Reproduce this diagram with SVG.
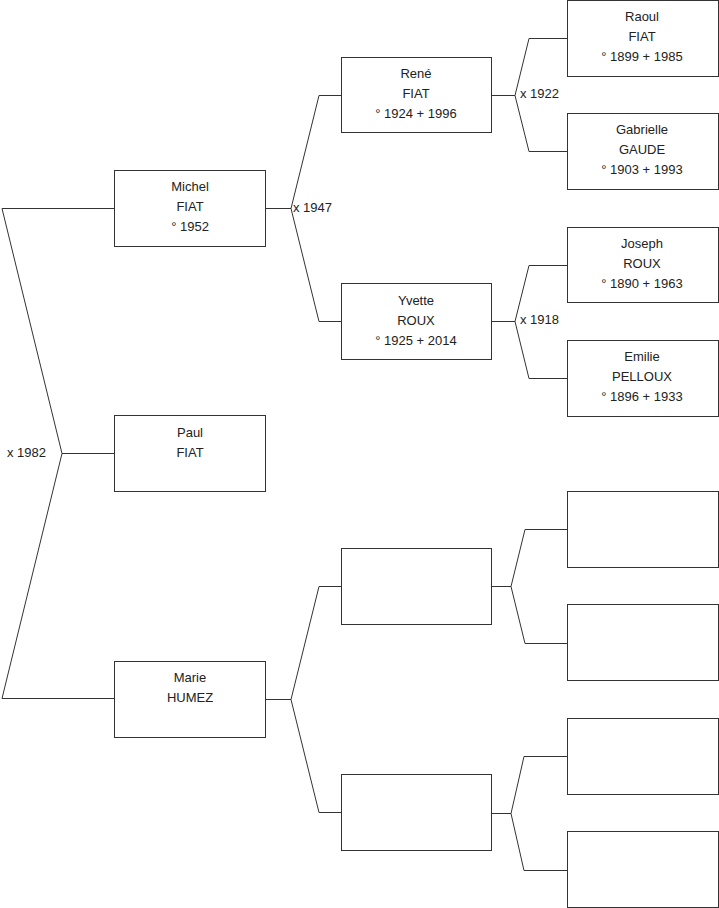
<svg xmlns="http://www.w3.org/2000/svg" width="719" height="908" viewBox="0 0 719 908">
<style>
.box{fill:#ffffff;stroke:#333333;stroke-width:1}
.ln{fill:none;stroke:#333333;stroke-width:1}
.t{font-family:"Liberation Sans",Arial,sans-serif;font-size:13px;fill:#222222;text-anchor:middle}
.lb{font-family:"Liberation Sans",Arial,sans-serif;font-size:13px;fill:#222222}
</style>
<rect x="0" y="0" width="719" height="908" fill="#ffffff"/>
<g id="connectors">
<polyline class="ln" points="114,208.5 2,208.5 62,453.5 2,698.5 114,698.5"/>
<line class="ln" x1="62" y1="453.5" x2="114" y2="453.5"/>
<polyline class="ln" points="265,208.5 291,208.5 319,95.5 341,95.5"/>
<polyline class="ln" points="291,208.5 319,321.5 341,321.5"/>
<polyline class="ln" points="491,95.5 515,95.5 529,38.5 567,38.5"/>
<polyline class="ln" points="515,95.5 529,151.5 567,151.5"/>
<polyline class="ln" points="491,321.5 515,321.5 529,265.5 567,265.5"/>
<polyline class="ln" points="515,321.5 529,378.5 567,378.5"/>
<polyline class="ln" points="265,699.5 291,699.5 319,586.5 341,586.5"/>
<polyline class="ln" points="291,699.5 319,812.5 341,812.5"/>
<polyline class="ln" points="491,586.5 511,586.5 525,529.5 567,529.5"/>
<polyline class="ln" points="511,586.5 525,643.5 567,643.5"/>
<polyline class="ln" points="491,813.5 511,813.5 524,756.5 567,756.5"/>
<polyline class="ln" points="511,813.5 524,870.5 567,870.5"/>
<text class="lb" x="7" y="457">x 1982</text>
<text class="lb" x="293" y="212">x 1947</text>
<text class="lb" x="520" y="98">x 1922</text>
<text class="lb" x="520" y="324">x 1918</text>
</g>
<g id="michel"><rect class="box" x="114.5" y="170.5" width="151" height="76"/><text class="t" x="190" y="191">Michel</text><text class="t" x="190" y="211">FIAT</text><text class="t" x="190" y="231">° 1952</text></g>
<g id="paul"><rect class="box" x="114.5" y="415.5" width="151" height="76"/><text class="t" x="190" y="437">Paul</text><text class="t" x="190" y="457">FIAT</text></g>
<g id="marie"><rect class="box" x="114.5" y="661.5" width="151" height="76"/><text class="t" x="190" y="682">Marie</text><text class="t" x="190" y="702">HUMEZ</text></g>
<g id="rene"><rect class="box" x="341.5" y="57.5" width="150" height="75"/><text class="t" x="416" y="78">René</text><text class="t" x="416" y="98">FIAT</text><text class="t" x="416" y="118">° 1924 + 1996</text></g>
<g id="yvette"><rect class="box" x="341.5" y="283.5" width="150" height="76"/><text class="t" x="416" y="305">Yvette</text><text class="t" x="416" y="325">ROUX</text><text class="t" x="416" y="345">° 1925 + 2014</text></g>
<g id="blank-m1"><rect class="box" x="341.5" y="548.5" width="150" height="76"/></g>
<g id="blank-m2"><rect class="box" x="341.5" y="774.5" width="150" height="76"/></g>
<g id="raoul"><rect class="box" x="567.5" y="0.5" width="151" height="76"/><text class="t" x="642" y="21">Raoul</text><text class="t" x="642" y="41">FIAT</text><text class="t" x="642" y="61">° 1899 + 1985</text></g>
<g id="gabrielle"><rect class="box" x="567.5" y="113.5" width="151" height="76"/><text class="t" x="642" y="134">Gabrielle</text><text class="t" x="642" y="154">GAUDE</text><text class="t" x="642" y="174">° 1903 + 1993</text></g>
<g id="joseph"><rect class="box" x="567.5" y="227.5" width="151" height="75"/><text class="t" x="642" y="248">Joseph</text><text class="t" x="642" y="268">ROUX</text><text class="t" x="642" y="288">° 1890 + 1963</text></g>
<g id="emilie"><rect class="box" x="567.5" y="340.5" width="151" height="76"/><text class="t" x="642" y="361">Emilie</text><text class="t" x="642" y="381">PELLOUX</text><text class="t" x="642" y="401">° 1896 + 1933</text></g>
<g id="blank-r1"><rect class="box" x="567.5" y="491.5" width="151" height="76"/></g>
<g id="blank-r2"><rect class="box" x="567.5" y="604.5" width="151" height="76"/></g>
<g id="blank-r3"><rect class="box" x="567.5" y="718.5" width="151" height="76"/></g>
<g id="blank-r4"><rect class="box" x="567.5" y="831.5" width="151" height="76"/></g>
</svg>
